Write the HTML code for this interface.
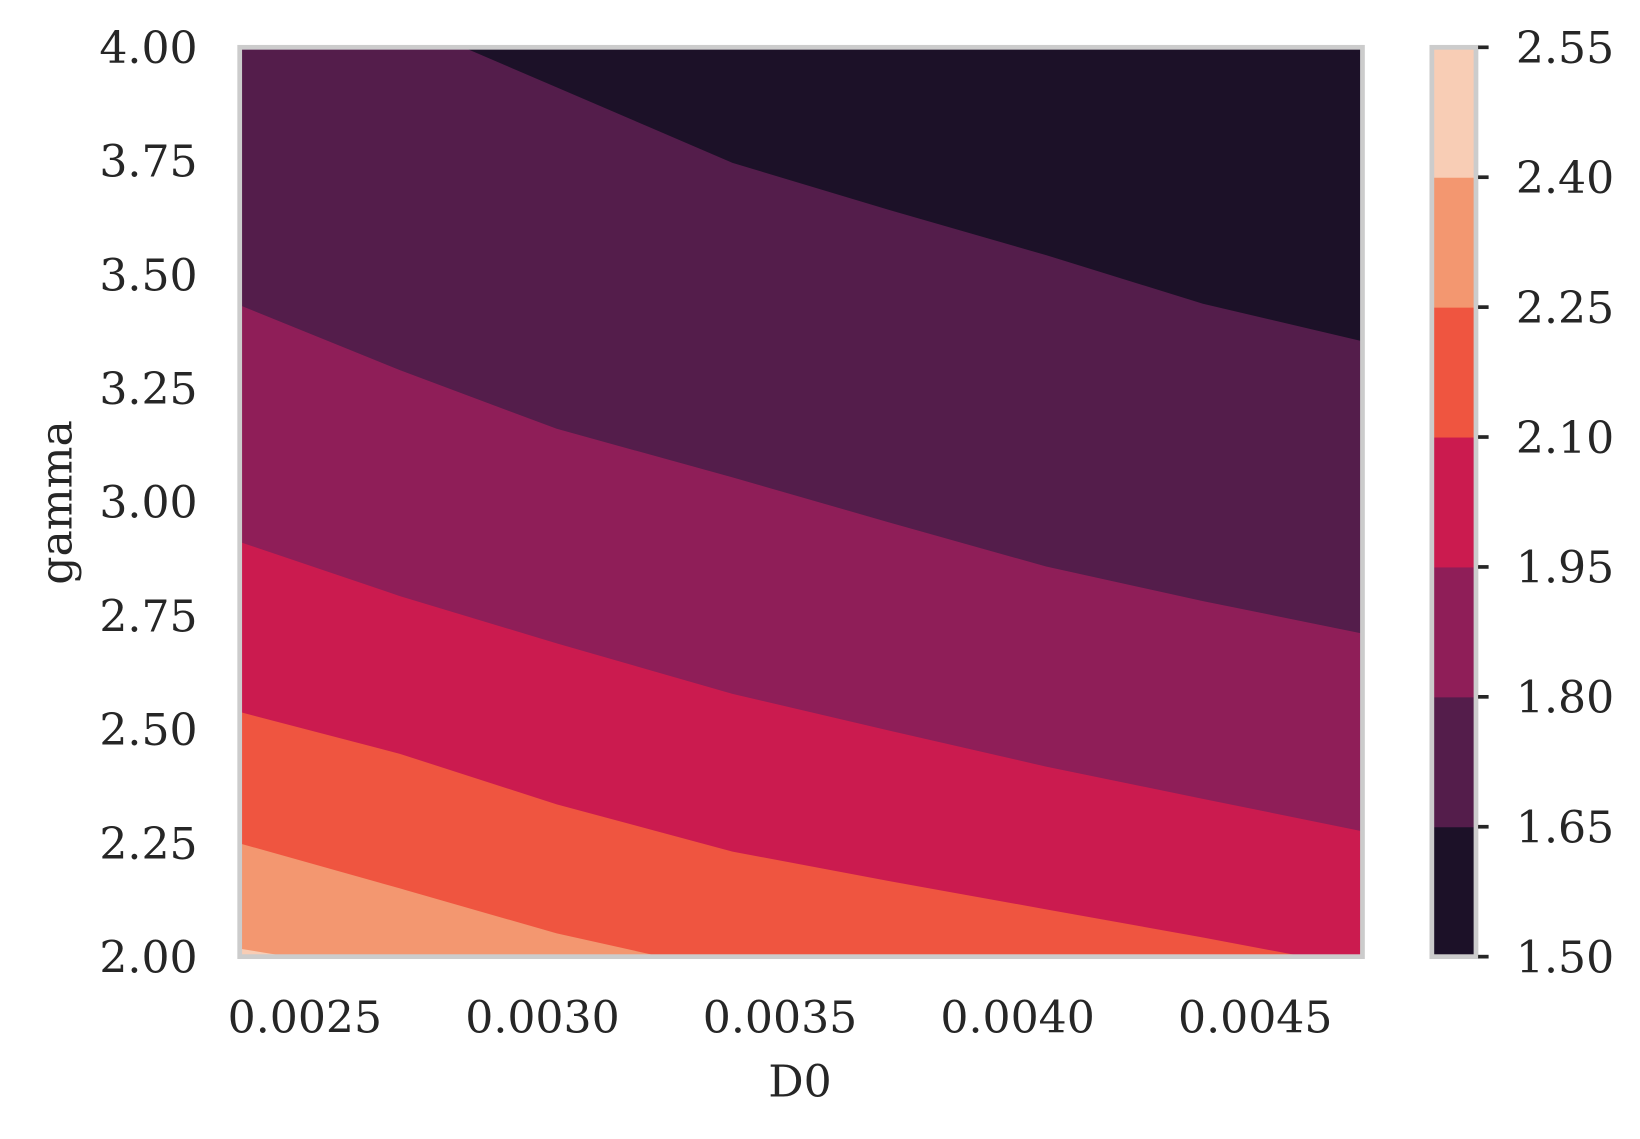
<!DOCTYPE html>
<html><head><meta charset="utf-8"><style>
html,body{margin:0;padding:0;background:#fff}
svg text{font-family:"DejaVu Serif","Liberation Serif",serif;fill:#262626}
</style></head><body>
<svg id="chart" width="1640" height="1134" viewBox="0 0 1560 1078.7" xmlns="http://www.w3.org/2000/svg">
<defs><clipPath id="pc"><rect x="228" y="45" width="1068" height="865"/></clipPath></defs>
<g id="plot" clip-path="url(#pc)"></g>
<rect x="228" y="45" width="1068" height="865" fill="none" stroke="#cccccc" stroke-width="4.5"/>
<g id="axes"></g>
<text x="761" y="1043" font-size="42" text-anchor="middle">D0</text>
<text transform="translate(68,478) rotate(-90)" font-size="42" text-anchor="middle">gamma</text>
<g id="cbar"></g>
</svg>
<script>
const d0Grid=[0.00236,0.00270,0.00303,0.00340,0.00373,0.00406,0.00439,0.00472];
const levels=[1.65,1.80,1.95,2.10,2.25,2.40];
const boundary165=[4.21,4.06,3.912,3.746,3.642,3.543,3.436,3.355];
const boundary180=[3.434,3.290,3.161,3.054,2.955,2.858,2.782,2.712];
const boundary195=[2.913,2.793,2.689,2.578,2.497,2.418,2.347,2.277];
const boundary210=[2.539,2.446,2.335,2.231,2.166,2.104,2.042,1.977];
const boundary225=[2.250,2.150,2.051,1.965,1.90,1.85,1.80,1.75];
const boundary240=[2.018,1.96,1.90,1.84,1.78,1.72,1.66,1.60];
const bandColors=["#1c1128","#541d4b","#8f1e58","#cb1b4f","#ef5540","#f39770","#f8cdb5"];
const xTicks=[0.0025,0.0030,0.0035,0.0040,0.0045];
const xTickLabels=["0.0025","0.0030","0.0035","0.0040","0.0045"];
const yTicks=[2.00,2.25,2.50,2.75,3.00,3.25,3.50,3.75,4.00];
const yTickLabels=["2.00","2.25","2.50","2.75","3.00","3.25","3.50","3.75","4.00"];
const cbarTicks=[1.50,1.65,1.80,1.95,2.10,2.25,2.40,2.55];
const cbarLabels=["1.50","1.65","1.80","1.95","2.10","2.25","2.40","2.55"];

const NS="http://www.w3.org/2000/svg";
const X=d=>290+(d-0.0025)*452000;
const Y=g=>45+(4-g)*432.5;
function mk(tag,attrs,parent){const e=document.createElementNS(NS,tag);for(const k in attrs)e.setAttribute(k,attrs[k]);parent.appendChild(e);return e;}
const plot=document.getElementById('plot');
const bg=mk('rect',{x:228,y:45,width:1068,height:865,fill:bandColors[6]},plot);


const bounds=[boundary165,boundary180,boundary195,boundary210,boundary225,boundary240];
for(let i=bounds.length-1;i>=0;i--){
  const b=bounds[i];
  let pts=d0Grid.map((d,j)=>X(d).toFixed(1)+','+Y(b[j]).toFixed(1));
  pts.push(X(d0Grid[d0Grid.length-1])+20+','+(-100));
  pts.push(X(d0Grid[0])-20+','+(-100));
  pts[0]=(X(d0Grid[0])-20)+','+Y(b[0]).toFixed(1)+' '+pts[0];
  pts.splice(d0Grid.length,0,(X(d0Grid[d0Grid.length-1])+20)+','+Y(b[b.length-1]).toFixed(1));
  const p=mk('polygon',{points:pts.join(' '),fill:bandColors[i]},plot);
  
  
}
const axes=document.getElementById('axes');
xTicks.forEach((t,i)=>{const e=mk('text',{x:X(t),y:982,'font-size':42,'text-anchor':'middle'},axes);e.textContent=xTickLabels[i];

});
yTicks.forEach((t,i)=>{const e=mk('text',{x:188,y:Y(t)+15,'font-size':42,'text-anchor':'end'},axes);e.textContent=yTickLabels[i];

});
const cb=document.getElementById('cbar');
const CY=v=>910-(v-1.50)/(1.05)*865;
for(let i=0;i<7;i++){const r=mk('rect',{x:1362,y:CY(cbarTicks[i+1]),width:42,height:CY(cbarTicks[i])-CY(cbarTicks[i+1])+0.5,fill:bandColors[i]},cb);

}
const cf=mk('rect',{x:1362,y:45,width:42,height:865,fill:'none',stroke:'#cccccc','stroke-width':4.5},cb);


cbarTicks.forEach((t,i)=>{const l=mk('line',{x1:1406,x2:1416,y1:CY(t),y2:CY(t),stroke:'#262626','stroke-width':3.5},cb);


const e=mk('text',{x:1442,y:CY(t)+15,'font-size':42},cb);e.textContent=cbarLabels[i];

});
</script>
</body></html>
